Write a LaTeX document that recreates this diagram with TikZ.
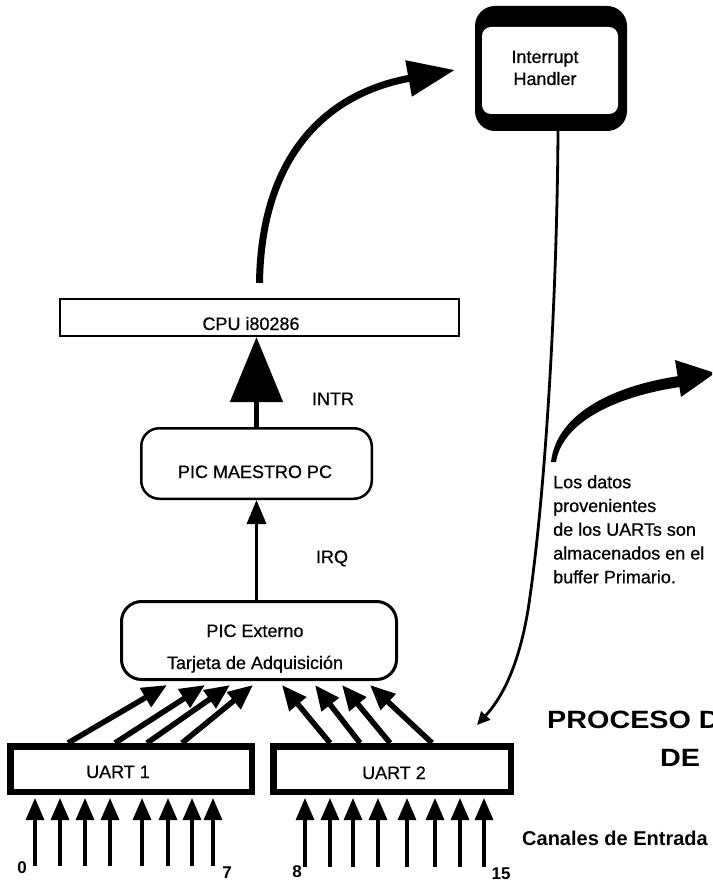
\documentclass[tikz,border=0pt]{standalone}
\usepackage{fontspec}
\setmainfont{Liberation Sans}[UprightFeatures={FakeBold=0.6}]
\usetikzlibrary{arrows.meta}
\begin{document}
\begin{tikzpicture}[x=1pt, y=-1pt,
  txt/.style={font=\fontsize{18}{22}\selectfont, inner sep=0pt, anchor=base},
  num/.style={font=\bfseries\fontsize{17}{20}\selectfont, inner sep=0pt, anchor=base},
  title/.style={font=\bfseries\fontsize{25}{30}\selectfont, inner sep=0pt, anchor=base west},
  uartbox/.style={draw, line width=6.5pt, inner sep=0pt, minimum height=45.5pt},
  picbox/.style={draw, rounded corners=18pt, inner sep=0pt},
  busarrow/.style={line width=5.5pt, -{Triangle[length=25pt,width=21pt]}},
  inarrow/.style={line width=3.2pt, shorten >=3pt, -{Triangle[length=22pt,width=18pt]}},
]
\useasboundingbox (0,0) rectangle (712,882);
\clip (0,0) rectangle (712,882);

% interrupt handler: heavy rounded frame
\node[name=hdl, fill=black, rounded corners=20pt, minimum width=152pt, minimum height=125pt, inner sep=0pt] at (551,68.5) {};
\fill[white, rounded corners=9pt] (482,27) rectangle (618,114);
\node[txt, name=hdlA] at (545,63) {Interrupt};
\node[txt, name=hdlB] at (545,85) {Handler};

% CPU
\node[draw, line width=2.2pt, minimum width=399pt, minimum height=37pt, inner sep=0pt, name=cpu] at (259.5,317.5) {};
\node[txt, name=cputxt] at (251,330) {CPU i80286};

% master PIC
\node[picbox, line width=2.5pt, minimum width=230.5pt, minimum height=70.5pt, name=maestro] at (256.5,463.5) {};
\node[txt, name=maestrotxt] at (255,478) {PIC MAESTRO PC};

% external PIC on the acquisition card
\node[picbox, rounded corners=20pt, line width=3pt, minimum width=275pt, minimum height=78pt, name=ext] at (259,640.5) {};
\node[txt, name=exttxtA] at (255,637) {PIC Externo};
\node[txt, name=exttxtB] at (255,669) {Tarjeta de Adquisición};

% UARTs
\node[uartbox, minimum width=241.5pt, name=uart1] at (131,769) {};
\node[uartbox, minimum width=237.5pt, name=uart2] at (392,769) {};
\node[txt, name=u1txt] at (118,778) {UART 1};
\node[txt, name=u2txt] at (394,779) {UART 2};

% INTR and IRQ lines
\draw[line width=5pt, -{Triangle[length=65pt,width=52pt]}] (maestro.north) -- (maestro.north |- cpu.south);
\node[txt, name=intr] at (333,405) {INTR};
\draw[line width=3.5pt, -{Triangle[length=24pt,width=19pt]}] (maestro.south |- ext.north) -- (maestro.south);
\node[txt, name=irq] at (332,563) {IRQ};

% CPU jumps to the interrupt handler
\draw[line width=7pt, -{Triangle[length=47pt,width=35pt]}] ([yshift=15pt]cpu.north) .. controls (261,165) and (318,95) .. ([xshift=-20pt,yshift=-1.5pt]hdl.west);

% handler returns towards the UARTs
\coordinate (bufin) at (477,725);
\draw[line width=2.8pt, -{Triangle[length=13pt,width=12pt]}] ([xshift=7pt]hdl.south) .. controls (557,300) and (545,500) .. (528,610) .. controls (518,670) and (500,700) .. (bufin);

% UART outputs into the external PIC
\foreach \s/\t in {-63/-92,-16/-54,16/-29,51/-6}
  \draw[busarrow] ([xshift=\s]uart1.north) -- ([xshift=\t,yshift=-4]ext.south);
\foreach \s/\t in {-62/23,-32/56,-2/83,40/111}
  \draw[busarrow] ([xshift=\s]uart2.north) -- ([xshift=\t,yshift=-4]ext.south);

% input channels
\foreach \x [count=\i] in {35,60,85,110,142,168,192,213} {
  \coordinate (inA\i) at (\x,866);
  \draw[inarrow] (inA\i) -- (inA\i |- uart1.south);
}
\foreach \x [count=\i] in {305,330,353,378,407,435,460,484} {
  \coordinate (inB\i) at (\x,867);
  \draw[inarrow] (inB\i) -- (inB\i |- uart2.south);
}
\node[num, name=n0] at (22,873) {0};
\node[num, name=n7] at (227,878) {7};
\node[num, name=n8] at (297,877) {8};
\node[num, name=n15] at (501,879) {15};

% note on the primary buffer
\node[font=\fontsize{18}{23.75}\selectfont, inner sep=0pt, anchor=north west, align=left, name=note] at (553,475)
  {Los datos\\provenientes\\de los UARTs son\\almacenados en el\\buffer Primario.};
\coordinate (bufA) at (553,462);
\fill (551,462) .. controls (556,417) and (606,387) .. (679,376) -- (680,387) .. controls (612,397) and (562,424) .. (556,462) -- cycle;
\fill (675,360) -- (715,373) -- (681,397) -- cycle;

% titles
\node[title, name=title1] at (547,728) {\scalebox{1.15}[1]{PROCESO D}};
\node[title, name=title2] at (660,766) {\scalebox{1.15}[1]{DE}};
\node[font=\bfseries\fontsize{20}{24}\selectfont, inner sep=0pt, anchor=base west, name=canales] at (522,845) {Canales de Entrada};
\end{tikzpicture}
\end{document}
